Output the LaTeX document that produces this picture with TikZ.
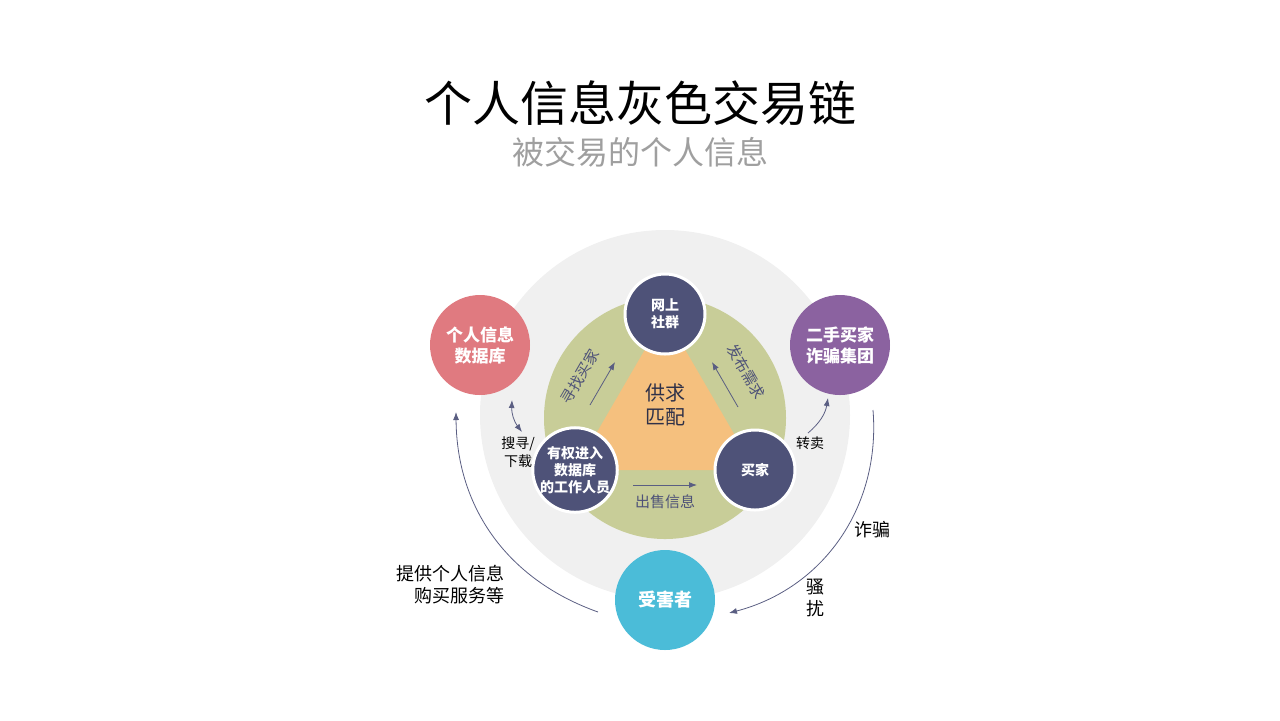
\documentclass[tikz,border=0pt]{standalone}
\usepackage{fontspec}
\setmainfont{Noto Sans CJK SC}
\usetikzlibrary{arrows.meta}
\definecolor{dnode}{RGB}{78,82,120}
\definecolor{ring}{RGB}{200,205,152}
\definecolor{core}{RGB}{245,192,126}
\definecolor{pinkc}{RGB}{224,122,128}
\definecolor{purplec}{RGB}{139,98,160}
\definecolor{cyanc}{RGB}{75,188,216}
\definecolor{arr}{RGB}{90,94,130}
\tikzset{
  actor/.style={circle,draw=white,line width=1.5pt,fill=dnode,minimum size=40pt,inner sep=0pt,align=center,text=white,font=\fontsize{7}{8.5}\selectfont\bfseries},
  party/.style={circle,minimum size=50pt,inner sep=0pt,align=center,text=white,font=\fontsize{8.5}{10.5}\selectfont\bfseries},
  flow/.style={-{Latex[length=4pt,width=3pt]},arr,line width=0.4pt},
  lbl/.style={font=\fontsize{7}{9}\selectfont,align=center}
}
\begin{document}
\begin{tikzpicture}[x=0.5pt,y=-0.5pt]
\useasboundingbox (0,0) rectangle (1280,720);
%background discs
\fill [gray!12] (665,415) circle (185);
\fill [ring] (665,418) circle (121);
\fill [core] (665,315) -- (575,470) -- (755,470) -- cycle;

% titles
\node (title) at (640,103) {\fontsize{24}{28}\selectfont 个人信息灰色交易链};
\node [text=gray!75] (sub) at (640,152) {\fontsize{16}{19}\selectfont 被交易的个人信息};
\node [font=\fontsize{10}{12}\selectfont,align=center,text=dnode!60!black] (match) at (665,405) {供求\\匹配};

% actors
\node [actor] (community) at (665,314) {网上\\社群};
\node [actor] (insider) at (575,470) {有权进入\\数据库\\的工作人员};
\node [actor] (buyer) at (755,470) {买家};
\node [party,fill=pinkc] (db) at (480,345) {个人信息\\数据库};
\node [party,fill=purplec] (fraud) at (840,345) {二手买家\\诈骗集团};
\node [party,fill=cyanc,font=\fontsize{9}{11}\selectfont\bfseries] (victim) at (665,600) {受害者};

% inner flows
\coordinate (sa) at (590,405); \coordinate (sb) at (615,362);
\draw [flow] (sa) -- (sb);
\node [lbl,font=\fontsize{7.5}{9}\selectfont,rotate=60,text=dnode] (seek) at (580,377) {寻找买家};
\coordinate (pa) at (738,407); \coordinate (pb) at (712,362);
\draw [flow] (pa) -- (pb);
\node [lbl,font=\fontsize{7.5}{9}\selectfont,rotate=-60,text=dnode] (post) at (746,372) {发布需求};
\coordinate (oa) at (633,485); \coordinate (ob) at (697,485);
\draw [flow] (oa) -- (ob);
\node [lbl,font=\fontsize{7.5}{9}\selectfont,text=dnode] (sell) at (665,502) {出售信息};

% outer flows
\coordinate (da) at (512,400); \coordinate (db2) at (522,432);
\draw [flow,{Latex[length=4pt,width=3pt]}-{Latex[length=4pt,width=3pt]}] (da) to[bend right=20] (db2);
\node [lbl] (search) at (518,452) {搜寻/\\下载};
\coordinate (ra) at (808,433); \coordinate (rb) at (828,398);
\draw [flow] (ra) to[bend right=20] (rb);
\node [lbl] (resell) at (810,443) {转卖};
\coordinate (la) at (598,612); \coordinate (lb) at (456,412);
\draw [flow] (la) to[bend left=35] (lb);
\node [font=\fontsize{9}{11}\selectfont,align=right] (provide) at (450,585) {提供个人信息\\购买服务等};
\coordinate (fa) at (873,410); \coordinate (fb) at (729,613);
\draw [flow] (fa) to[bend left=40] (fb);
\node [font=\fontsize{9}{11}\selectfont] (cheat) at (872,530) {诈骗};
\node [font=\fontsize{9}{11}\selectfont,align=center] (harass) at (815,598) {骚\\扰};
\end{tikzpicture}
\end{document}
